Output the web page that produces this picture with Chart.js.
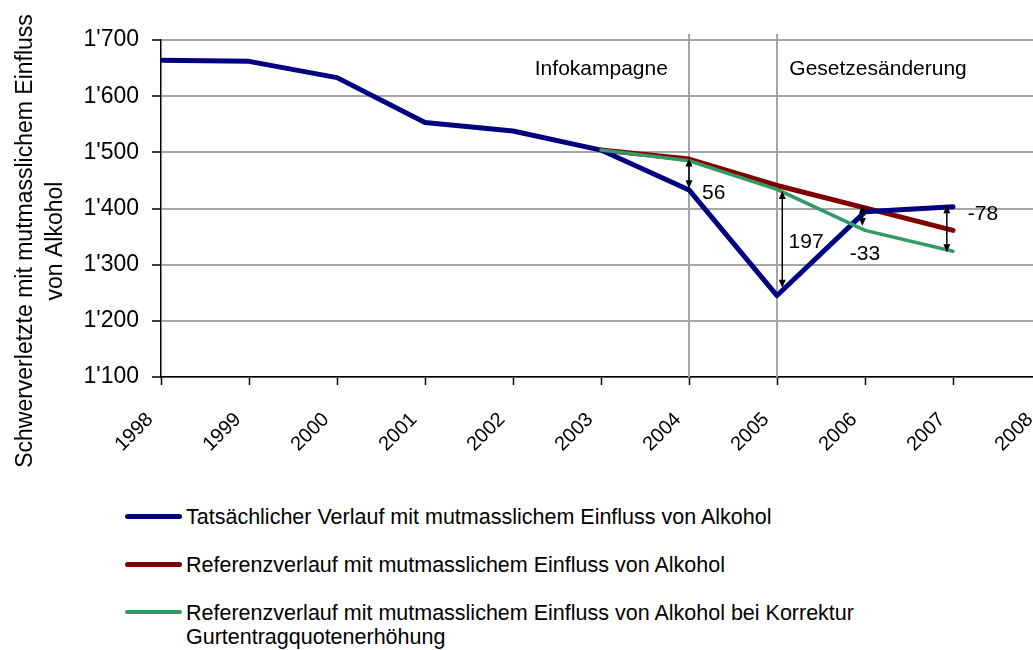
<!DOCTYPE html>
<html><head><meta charset="utf-8">
<script src="https://cdn.jsdelivr.net/npm/chart.js@4"></script>
<style>
html,body{margin:0;padding:0;overflow:hidden;background:#fff;width:1033px;height:650px;}
#wrap{position:absolute;left:0;top:0;width:1045px;height:480px;}
.leg{position:absolute;left:186px;font-family:"Liberation Sans",Arial,sans-serif;font-size:21.5px;line-height:24px;color:#000;white-space:nowrap;}
.sw{position:absolute;left:125px;width:57px;height:5px;border-radius:3px;}
</style></head><body>
<div id="wrap"><canvas id="c" width="1045" height="480"></canvas></div>
<div class="sw" style="top:514px;background:#000080"></div>
<div class="leg" style="top:505px">Tatsächlicher Verlauf mit mutmasslichem Einfluss von Alkohol</div>
<div class="sw" style="top:562px;background:#800000"></div>
<div class="leg" style="top:553px">Referenzverlauf mit mutmasslichem Einfluss von Alkohol</div>
<div class="sw" style="top:610px;height:4px;background:#339966"></div>
<div class="leg" style="top:601px">Referenzverlauf mit mutmasslichem Einfluss von Alkohol bei Korrektur<br>Gurtentragquotenerhöhung</div>
<script>
// ---- data ----
const years = [1998, 1999, 2000, 2001, 2002, 2003, 2004, 2005, 2006, 2007];
const actualValues = [1664, 1662, 1633, 1553, 1538, 1504, 1433, 1245, 1394, 1403];
const referenceValues = [null, null, null, null, null, 1504, 1488, 1441, 1401, 1361];
const correctedValues = [null, null, null, null, null, 1504, 1485, 1434, 1361, 1324];
const xTickYears = [1998, 1999, 2000, 2001, 2002, 2003, 2004, 2005, 2006, 2007, 2008];
const yTickValues = [1100, 1200, 1300, 1400, 1500, 1600, 1700];
const seriesNames = [
  'Tatsächlicher Verlauf mit mutmasslichem Einfluss von Alkohol',
  'Referenzverlauf mit mutmasslichem Einfluss von Alkohol',
  'Referenzverlauf mit mutmasslichem Einfluss von Alkohol bei Korrektur Gurtentragquotenerhöhung'
];
const markerYears = [2004, 2005];
const sectionLabels = ['Infokampagne', 'Gesetzesänderung'];
const sectionLabelX = [2003.76, 2005.14];
const sectionLabelY = 1638;
const arrowX = [2004, 2005.06, 2005.97, 2006.93];
const arrowFrom = [1489, 1431, 1406, 1406];
const arrowTo = [1436, 1259, 1369, 1322];
const diffLabels = ['56', '197', '-33', '-78'];
const diffLabelX = [2004.28, 2005.33, 2006.0, 2007.34];
const diffLabelY = [1427, 1340, 1318, 1389];
const yTitle = ['Schwerverletzte mit mutmasslichem Einfluss', 'von Alkohol'];

const FONT = '"Liberation Sans", Arial, sans-serif';
const toXY = vals => years.map((y, i) => ({x: y, y: vals[i]})).filter(p => p.y !== null);

function fmt(v) {
  const s = String(Math.round(v));
  return s.length > 3 ? s.slice(0, s.length - 3) + "'" + s.slice(-3) : s;
}

const decor = {
  id: 'decor',
  beforeDatasetsDraw(chart) {
    const {ctx, scales: {x}, chartArea} = chart;
    ctx.save();
    ctx.strokeStyle = '#a6a6a6';
    ctx.lineWidth = 2;
    markerYears.forEach(yr => {
      const px = Math.round(x.getPixelForValue(yr));
      ctx.beginPath();
      ctx.moveTo(px, chartArea.top - 6);
      ctx.lineTo(px, chartArea.bottom);
      ctx.stroke();
    });
    ctx.restore();
  },
  afterDatasetsDraw(chart) {
    const {ctx, scales: {x, y}} = chart;
    ctx.save();
    ctx.strokeStyle = '#000';
    ctx.fillStyle = '#000';
    ctx.lineWidth = 1.5;
    arrowX.forEach((ax, i) => {
      const px = x.getPixelForValue(ax);
      const y1 = y.getPixelForValue(arrowFrom[i]);
      const y2 = y.getPixelForValue(arrowTo[i]);
      const dir = y2 > y1 ? 1 : -1;
      ctx.beginPath();
      ctx.moveTo(px, y1 + dir * 3);
      ctx.lineTo(px, y2 - dir * 3);
      ctx.stroke();
      [[y1, -dir], [y2, dir]].forEach(([tip, d]) => {
        ctx.beginPath();
        ctx.moveTo(px, tip);
        ctx.lineTo(px - 3.5, tip - d * 8);
        ctx.lineTo(px + 3.5, tip - d * 8);
        ctx.closePath();
        ctx.fill();
      });
    });
    ctx.font = '21px ' + FONT;
    ctx.textAlign = 'center';
    ctx.textBaseline = 'middle';
    diffLabels.forEach((t, i) => {
      ctx.fillText(t, x.getPixelForValue(diffLabelX[i]), y.getPixelForValue(diffLabelY[i]));
    });
    ctx.textBaseline = 'alphabetic';
    ctx.textAlign = 'right';
    ctx.fillText(sectionLabels[0], x.getPixelForValue(sectionLabelX[0]), y.getPixelForValue(sectionLabelY));
    ctx.textAlign = 'left';
    ctx.fillText(sectionLabels[1], x.getPixelForValue(sectionLabelX[1]), y.getPixelForValue(sectionLabelY));
    ctx.restore();
  },
  afterDraw(chart) {
    const {ctx} = chart;
    ctx.save();
    ctx.font = '23px ' + FONT;
    ctx.fillStyle = '#000';
    ctx.textAlign = 'center';
    ctx.textBaseline = 'alphabetic';
    [32, 62].forEach((bx, i) => {
      ctx.save();
      ctx.translate(bx, 241);
      ctx.rotate(-Math.PI / 2);
      ctx.fillText(yTitle[i], 0, 0);
      ctx.restore();
    });
    ctx.restore();
  }
};

new Chart(document.getElementById('c'), {
  type: 'line',
  data: {
    datasets: [
      {label: seriesNames[0], data: toXY(actualValues), borderColor: '#000080', borderWidth: 5, order: 1},
      {label: seriesNames[1], data: toXY(referenceValues), borderColor: '#800000', borderWidth: 5, order: 2},
      {label: seriesNames[2], data: toXY(correctedValues), borderColor: '#339966', borderWidth: 3.5, order: 0}
    ]
  },
  options: {
    responsive: false,
    animation: false,
    events: [],
    layout: {padding: {top: 40, right: 4, left: 0, bottom: 0}},
    elements: {
      point: {radius: 0, hoverRadius: 0},
      line: {tension: 0, borderCapStyle: 'round', borderJoinStyle: 'round', fill: false}
    },
    plugins: {legend: {display: false}, tooltip: {enabled: false}, title: {display: false}},
    scales: {
      x: {
        type: 'linear', position: 'bottom', min: 1998, max: 2008,
        afterBuildTicks: s => { s.ticks = xTickYears.map(v => ({value: v})); },
        afterFit: s => { s.height = 103; s.paddingLeft = 0; s.paddingRight = 0; },
        ticks: {
          autoSkip: false, minRotation: 45, maxRotation: 45, labelOffset: -11, padding: 23,
          color: '#000', font: {family: FONT, size: 20}, callback: v => String(v)
        },
        grid: {drawOnChartArea: false, drawTicks: true, tickLength: 8, tickColor: '#000', tickWidth: 1.5},
        border: {display: true, color: '#000', width: 1.5}
      },
      y: {
        type: 'linear', position: 'left', min: 1100, max: 1700,
        afterBuildTicks: s => { s.ticks = yTickValues.map(v => ({value: v})); },
        afterFit: s => { s.width = 161; },
        ticks: {color: '#000', padding: 13, font: {family: FONT, size: 23}, callback: v => fmt(v)},
        grid: {color: '#a6a6a6', lineWidth: 2, tickLength: 9, tickColor: '#000', tickWidth: 1.5},
        border: {display: true, color: '#000', width: 1.5}
      }
    }
  },
  plugins: [decor]
});
</script>
</body></html>
